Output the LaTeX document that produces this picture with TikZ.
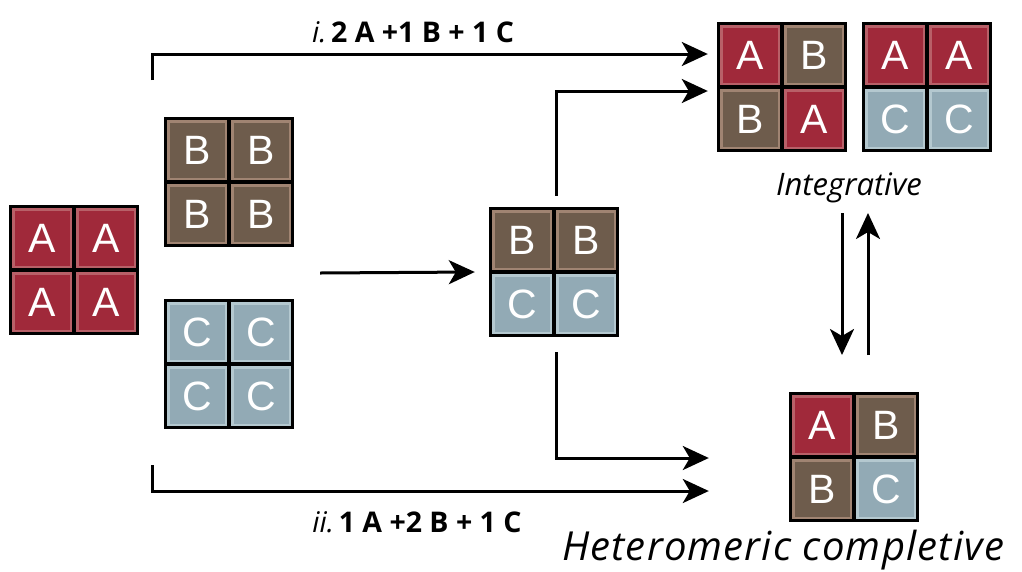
\documentclass[tikz,border=0pt]{standalone}
\usepackage{fontspec}
\setmainfont{Open Sans}
\newfontfamily\tilefont{Liberation Sans}
\usetikzlibrary{arrows.meta,calc}

\definecolor{afill}{RGB}{160,41,58}
\definecolor{aedge}{RGB}{184,96,104}
\definecolor{bfill}{RGB}{110,92,76}
\definecolor{bedge}{RGB}{160,132,114}
\definecolor{cfill}{RGB}{146,170,181}
\definecolor{cedge}{RGB}{180,200,207}

\tikzset{
  blk/.style={fill=black, draw=none, minimum size=130pt, inner sep=0pt},
  tile/.style={minimum size=57.5pt, inner sep=0pt, line width=2.5pt,
    text=white, font=\tilefont\fontsize{41}{41}\selectfont},
  tileA/.style={tile, fill=afill, draw=aedge},
  tileB/.style={tile, fill=bfill, draw=bedge},
  tileC/.style={tile, fill=cfill, draw=cedge},
  arr/.style={line width=3pt, -{Stealth[length=26pt,width=24pt,inset=7pt]}},
  routelabel/.style={anchor=base, inner sep=0pt, font=\fontsize{28.5}{28.5}\selectfont},
  kindlabel/.style={anchor=base, inner sep=0pt},
}

% a 2x2 block of subunits: name, centre, then the four letters row by row
\newcommand\quadblock[6]{%
  \node[blk] (#1) at (#2) {};
  \node[tile#3] (#1-1) at ($(#1)+(-32,-32)$) {#3};
  \node[tile#4] (#1-2) at ($(#1)+(32,-32)$) {#4};
  \node[tile#5] (#1-3) at ($(#1)+(-32,32)$) {#5};
  \node[tile#6] (#1-4) at ($(#1)+(32,32)$) {#6};
}

\begin{document}
\begin{tikzpicture}[x=1pt,y=-1pt]
\useasboundingbox (0,0) rectangle (1022,571);

% homomeric starting blocks
\quadblock{aa}{74,270}{A}{A}{A}{A}
\quadblock{bb}{229,182}{B}{B}{B}{B}
\quadblock{cc}{229,364}{C}{C}{C}{C}

% intermediate
\quadblock{bc}{554,272}{B}{B}{C}{C}

% integrative products
\quadblock{abba}{782,87}{A}{B}{B}{A}
\quadblock{aacc}{927,87}{A}{A}{C}{C}

% heteromeric completive product
\quadblock{abbc}{854,457}{A}{B}{B}{C}

% labels
\node[routelabel] (ri) at (413,42) {\textit{i.}\,\textbf{2 A +1 B + 1 C}};
\node[routelabel] (rii) at (417,532) {\textit{ii.}\,\textbf{1 A +2 B + 1 C}};
\node[kindlabel, font=\itshape\fontsize{31}{31}\selectfont] (integ) at (849,195) {Integrative};
\node[kindlabel, font=\itshape\fontsize{40}{40}\selectfont\addfontfeature{LetterSpace=3}]
  (het) at (783,560) {Heteromeric completive};

% free ends of the connectors
\coordinate (ti) at (152,80);
\coordinate (tii) at (152,465);
\coordinate (mix) at ($($(bb.east)!0.5!(cc.east)$)+(26,0)$);
\coordinate (dn1) at (842,213);
\coordinate (dn2) at (842,355);
\coordinate (up1) at (868,355);
\coordinate (up2) at (868,213);

% route i
\draw[arr] (ti) |- ($(abba.west)+(-9,-33)$);
% route ii
\draw[arr] (tii) |- ($(abbc.west)+(-80,34)$);
% mixing of the homomers
\draw[arr] (mix) -- ($(bc.west)+(-14,0)$);
% from the intermediate
\draw[arr] ($(bc.north)+(2,-11)$) |- ($(abba.west)+(-9,4)$);
\draw[arr] ($(bc.south)+(2,15)$) |- ($(abbc.west)+(-80,1)$);
% interconversion
\draw[arr] (dn1) -- (dn2);
\draw[arr] (up1) -- (up2);
\end{tikzpicture}
\end{document}
